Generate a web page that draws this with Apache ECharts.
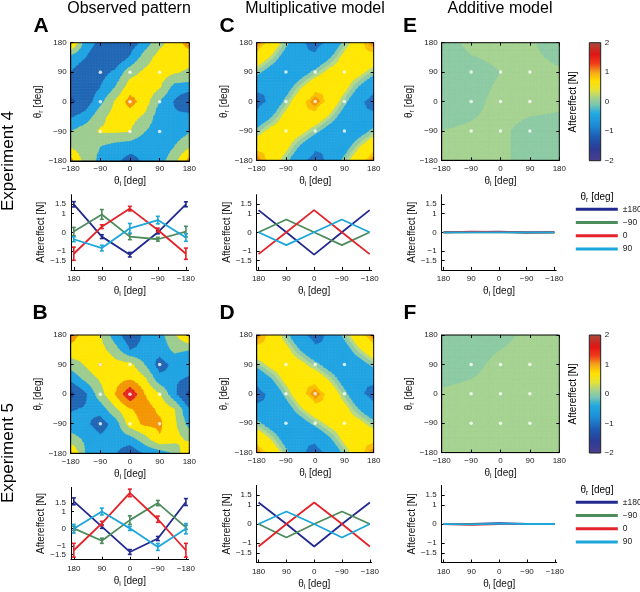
<!DOCTYPE html>
<html><head><meta charset="utf-8">
<script src="https://cdn.jsdelivr.net/npm/echarts@6/dist/echarts.min.js"></script>
<style>html,body{margin:0;padding:0;background:#fff}#c{width:640px;height:592px}</style>
</head><body><div id="c"></div>
<script>
const FONT = '"Liberation Sans", Arial, Helvetica, sans-serif';

// ---------- data ----------
const thetaI = [180, 90, 0, -90, -180];           // x of the line plots
const angles5 = [-180, -90, 0, 90, 180];
const angles9 = [-180, -135, -90, -45, 0, 45, 90, 135, 180];
const dotPts = [[-90,90],[0,90],[90,90],[-90,0],[0,0],[90,0],[-90,-90],[0,-90],[90,-90]];
const seriesNames = ['±180', '−90', '0', '90'];
const lineColors = ['#232a8f', '#4d8c5d', '#e3222a', '#1ca6da'];
const yTicks = [-1.5, -1, 0, 1, 1.5];

// maps: rows = θr from 180 (top) down to -180, cols = θi from -180 to 180 (45° steps)
const mapA = [
  [ 1.2,  -0.3,  -0.6,  -0.8,  -0.8,  -0.3,   0.35,  0.75,  1.2],
  [-0.27, -0.5,  -0.8,  -0.9,  -0.45,  0.25,  0.7,   0.85,  0.7],
  [-0.52, -0.75, -0.7,  -0.4,   0.3,   0.6,   0.75,  0.55,  0.4],
  [-0.8,  -0.85, -0.5,   0.0,   0.75,  0.85,  0.55, -0.2,  -0.25],
  [-1.1,  -0.8,  -0.15,  0.55,  1.2,   0.75, -0.05, -0.55, -1.1],
  [-0.55, -0.3,   0.35,  0.7,   0.7,   0.4,  -0.3,  -0.4,  -0.3],
  [ 0.0,   0.3,   0.55,  0.55,  0.5,   0.0,  -0.3,  -0.3,  -0.05],
  [ 0.4,   0.2,   0.0,  -0.2,  -0.3,  -0.4,  -0.35,  0.0,   0.4],
  [ 1.2,   0.2,  -0.1,  -0.4,  -0.7,  -0.4,  -0.2,   0.3,   1.2]
];
const mapB = [
  [ 1.2,   0.8,   0.5,  -0.3,  -0.85, -0.4,  -0.2,   0.4,   1.1],
  [ 0.85,  0.75,  0.7,   0.2,  -0.5,  -0.4,  -0.3,   0.1,   0.0],
  [ 0.2,   0.55,  1.05,  0.7,   0.65,  0.0,  -0.75, -0.35, -0.35],
  [-0.4,   0.1,   0.55,  0.8,   1.0,   0.6,  -0.3,  -0.45, -0.55],
  [-1.2,  -0.6,   0.3,   1.0,   1.95,  1.0,   0.55, -0.4,  -1.2],
  [-0.55, -0.45, -0.3,   0.4,   0.95,  1.2,   0.9,   0.5,  -0.5],
  [-0.3,  -0.4,  -0.75, -0.3,   0.75,  1.1,   1.1,   0.6,  -0.2],
  [ 0.2,  -0.1,  -0.4,  -0.3,  -0.2,   0.3,   0.95,  0.7,   0.35],
  [ 1.1,  -0.05, -0.3,  -0.45, -0.9,  -0.45, -0.3,   0.05,  1.1]
];
const mapC = [
  [ 1.1,  0.78,  0.0, -0.78, -1.1, -0.78,  0.0,  0.78,  1.1],
  [ 0.78, 0.2,  -0.49,-0.9,  -0.78,-0.2,   0.49, 0.9,   0.78],
  [ 0.0, -0.49, -0.7, -0.49,  0.0,  0.49,  0.7,  0.49,  0.0],
  [-0.78,-0.9,  -0.49, 0.2,   0.78, 0.9,   0.49,-0.2,  -0.78],
  [-1.1, -0.78,  0.0,  0.78,  1.1,  0.78,  0.0, -0.78, -1.1],
  [-0.78,-0.2,   0.49, 0.9,   0.78, 0.2,  -0.49,-0.9,  -0.78],
  [ 0.0,  0.49,  0.7,  0.49,  0.0, -0.49, -0.7, -0.49,  0.0],
  [ 0.78, 0.9,   0.49,-0.2,  -0.78,-0.9,  -0.49, 0.2,   0.78],
  [ 1.1,  0.78,  0.0, -0.78, -1.1, -0.78,  0.0,  0.78,  1.1]
];
const mapD = [
  [ 1.1,  0.78,  0.0, -0.78, -1.1, -0.78,  0.0,  0.78,  1.1],
  [ 0.78, 0.9,   0.49,-0.2,  -0.78,-0.9,  -0.49, 0.2,   0.78],
  [ 0.0,  0.49,  0.7,  0.49,  0.0, -0.49, -0.7, -0.49,  0.0],
  [-0.78,-0.2,   0.49, 0.9,   0.78, 0.2,  -0.49,-0.9,  -0.78],
  [-1.1, -0.78,  0.0,  0.78,  1.1,  0.78,  0.0, -0.78, -1.1],
  [-0.78,-0.9,  -0.49, 0.2,   0.78, 0.9,   0.49,-0.2,  -0.78],
  [ 0.0, -0.49, -0.7, -0.49,  0.0,  0.49,  0.7,  0.49,  0.0],
  [ 0.78, 0.2,  -0.49,-0.9,  -0.78,-0.2,   0.49, 0.9,   0.78],
  [ 1.1,  0.78,  0.0, -0.78, -1.1, -0.78,  0.0,  0.78,  1.1]
];
// 90° steps
const mapE = [
  [-0.02,  0.01,   0.015,  0.005, -0.02],
  [-0.02, -0.015,  0.0,    0.01,   0.005],
  [-0.02, -0.01,   0.01,   0.01,   0.005],
  [ 0.0,   0.005,  0.005, -0.01,  -0.01],
  [ 0.01,  0.01,   0.005, -0.01,  -0.02]
];
const mapF = [
  [-0.02, -0.02, -0.01,  0.01, 0.01],
  [-0.02, -0.01,  0.01,  0.01, 0.01],
  [ 0.005, 0.01,  0.01,  0.01, 0.01],
  [ 0.01,  0.01,  0.01,  0.01, 0.01],
  [ 0.01,  0.01,  0.01,  0.01, 0.01]
];

// contour levels and band colours
const levelsObs = [-1.5, -1, -0.5, 0, 0.5, 1, 1.5];
const colorsObs = ['#2a3a90', '#17479f', '#1f66b5', '#1fa3e3', '#9ecd8f', '#ffe600', '#f39500', '#e2261f'];
const levelsMul = [-0.9, -0.15, 0.1, 0.3, 0.9, 1.0];
const colorsMul = ['#1e70c2', '#1fa3e3', '#8fcaa8', '#b6d886', '#ffe600', '#fbbd00', '#f39500'];
const levelsAdd = [0];
const colorsAdd = ['#8ccaa3', '#a5d290'];

// colorbar
const cbValues = [-2, -1.6, -1.2, -0.8, -0.4, -0.1, 0.1, 0.4, 0.7, 1.0, 1.3, 1.6, 2];
const cbColors = ['#4b3f8c', '#2b3b95', '#1d5bb0', '#1e8bd6', '#21a9e0', '#7cc6b0', '#a0d091', '#e6e23a', '#ffe000', '#f6a31c', '#ef3b1a', '#e01515', '#a84a3c'];

// line plots (x = thetaI)
const obs4_pm180 = [1.49, -0.23, -1.19, 0.0, 1.49];
const obs4_m90   = [0.04, 0.95, -0.23, -0.37, 0.04];
const obs4_0     = [-1.14, 0.3, 1.26, 0.12, -1.14];
const obs4_90    = [-0.37, -0.84, 0.21, 0.65, -0.28];
const err4_pm180 = [0.14, 0.1, 0.12, 0.08, 0.13];
const err4_m90   = [0.22, 0.26, 0.16, 0.1, 0.28];
const err4_0     = [0.35, 0.1, 0.12, 0.1, 0.3];
const err4_90    = [0.13, 0.15, 0.26, 0.2, 0.2];

const obs5_pm180 = [1.59, 0.12, -1.35, -0.57, 1.55];
const obs5_m90   = [0.02, -0.7, 0.5, 1.49, 0.08];
const obs5_0     = [-1.25, 0.31, 2.08, 0.55, -1.25];
const obs5_90    = [0.0, 1.0, 0.02, -1.06, 0.0];
const err5_pm180 = [0.2, 0.1, 0.14, 0.12, 0.2];
const err5_m90   = [0.12, 0.15, 0.25, 0.15, 0.12];
const err5_0     = [0.4, 0.12, 0.22, 0.18, 0.4];
const err5_90    = [0.25, 0.2, 0.12, 0.2, 0.3];

const mul4_pm180 = [1.18, 0.0, -1.19, 0.0, 1.18];
const mul4_m90   = [0.0, 0.68, 0.0, -0.68, 0.0];
const mul4_0     = [-1.16, 0.0, 1.18, 0.0, -1.16];
const mul4_90    = [0.0, -0.68, 0.0, 0.68, 0.0];

const mul5_pm180 = [1.12, 0.0, -1.17, 0.0, 1.12];
const mul5_m90   = [0.0, -0.7, 0.0, 0.65, 0.0];
const mul5_0     = [-1.17, 0.0, 1.12, 0.0, -1.17];
const mul5_90    = [0.0, 0.65, 0.0, -0.7, 0.0];

const add4_pm180 = [0.01, 0.01, 0.03, -0.01, 0.01];
const add4_m90   = [-0.02, 0.0, 0.0, -0.02, -0.02];
const add4_0     = [0.0, 0.03, 0.02, 0.0, 0.0];
const add4_90    = [0.0, 0.0, 0.0, 0.0, 0.0];

const add5_pm180 = [0.0, 0.0, 0.04, 0.0, 0.0];
const add5_m90   = [0.0, 0.0, 0.0, 0.0, 0.0];
const add5_0     = [0.0, -0.04, 0.0, 0.0, 0.0];
const add5_90    = [0.0, -0.02, 0.02, 0.0, 0.0];

// ---------- helpers ----------
const minus = v => String(v).replace('-', '−');
const rich = {
  a: {fontSize: 10, fontFamily: FONT, color: '#111', lineHeight: 13},
  b: {fontSize: 7, fontFamily: FONT, color: '#111', verticalAlign: 'bottom'}
};
const nameI = '{a|θ}{b|i}{a| [deg]}';
const nameR = '{a|θ}{b|r}{a| [deg]}';

function clip(poly, lv, above) {
  const out = [];
  const n = poly.length;
  for (let i = 0; i < n; i++) {
    const a = poly[i], b = poly[(i + 1) % n];
    const ina = above ? a[2] >= lv : a[2] <= lv;
    const inb = above ? b[2] >= lv : b[2] <= lv;
    if (ina) out.push(a);
    if (ina !== inb) {
      const t = (lv - a[2]) / (b[2] - a[2]);
      out.push([a[0] + t * (b[0] - a[0]), a[1] + t * (b[1] - a[1]), lv]);
    }
  }
  return out;
}

const grids = [], xAxes = [], yAxes = [], series = [];
const tickStyle = {show: true, inside: true, length: 3, lineStyle: {color: '#000'}};

function addMap(values, angles, levels, colors, left, top, w, h, sub) {
  const gi = grids.length;
  grids.push({left, top, width: w, height: h, show: true, borderColor: '#000', borderWidth: 1, z: 10, backgroundColor: 'transparent'});
  const xi = xAxes.length, yi = yAxes.length;
  xAxes.push({gridIndex: gi, type: 'value', min: -180, max: 180, interval: 90, z: 10,
    axisLine: {show: true, onZero: false, lineStyle: {color: '#000', width: 1}},
    axisTick: tickStyle,
    axisLabel: {fontSize: 8, color: '#222', margin: 4, formatter: minus, fontFamily: FONT},
    splitLine: {show: false},
    name: nameI, nameLocation: 'middle', nameGap: 14, nameTextStyle: {rich}});
  xAxes.push({gridIndex: gi, type: 'value', position: 'top', min: -180, max: 180, interval: 90, z: 10,
    axisLine: {show: false, onZero: false}, axisTick: tickStyle, axisLabel: {show: false}, splitLine: {show: false}});
  yAxes.push({gridIndex: gi, type: 'value', min: -180, max: 180, interval: 90, z: 10,
    axisLine: {show: true, onZero: false, lineStyle: {color: '#000', width: 1}},
    axisTick: tickStyle,
    axisLabel: {fontSize: 8, color: '#222', margin: 4, formatter: minus, fontFamily: FONT},
    splitLine: {show: false},
    name: nameR, nameLocation: 'middle', nameGap: 26, nameTextStyle: {rich}});
  yAxes.push({gridIndex: gi, type: 'value', position: 'right', min: -180, max: 180, interval: 90, z: 10,
    axisLine: {show: false, onZero: false}, axisTick: tickStyle, axisLabel: {show: false}, splitLine: {show: false}});
  const n = angles.length;
  const val = (ci, rj) => values[n - 1 - rj][ci];
  const cells = [];
  for (let rj = 0; rj < n - 1; rj++) for (let ci = 0; ci < n - 1; ci++) cells.push([angles[ci], angles[rj], ci, rj]);
  series.push({
    type: 'custom', xAxisIndex: xi, yAxisIndex: yi, data: cells, clip: true, silent: true, z: 1,
    renderItem(params, api) {
      const ci = api.value(2), rj = api.value(3);
      const x0 = angles[ci], x1 = angles[ci + 1], y0 = angles[rj], y1 = angles[rj + 1];
      const v00 = val(ci, rj), v10 = val(ci + 1, rj), v11 = val(ci + 1, rj + 1), v01 = val(ci, rj + 1);
      // bilinear surface drawn on a sub-mesh of the cell
      const node = (a, b) => {
        const u = a / sub, t = b / sub;
        return [x0 + u * (x1 - x0), y0 + t * (y1 - y0),
          v00 * (1 - u) * (1 - t) + v10 * u * (1 - t) + v11 * u * t + v01 * (1 - u) * t];
      };
      const children = [];
      for (let a = 0; a < sub; a++) for (let b = 0; b < sub; b++) {
        const q00 = node(a, b), q10 = node(a + 1, b), q11 = node(a + 1, b + 1), q01 = node(a, b + 1);
        for (const t of [[q00, q10, q11], [q00, q11, q01]]) {
          for (let k = 0; k <= levels.length; k++) {
            let poly = t;
            if (k > 0) poly = clip(poly, levels[k - 1], true);
            if (poly.length >= 3 && k < levels.length) poly = clip(poly, levels[k], false);
            if (poly.length >= 3) children.push({type: 'polygon',
              shape: {points: poly.map(p => api.coord([p[0], p[1]]))},
              style: {fill: colors[k], stroke: colors[k], lineWidth: 0.7}});
          }
        }
      }
      return {type: 'group', children};
    }
  });
  series.push({type: 'scatter', xAxisIndex: xi, yAxisIndex: yi, data: dotPts, symbolSize: 3.5,
    itemStyle: {color: '#fff'}, silent: true, z: 5});
}

function addLines(lines, errs, left, top, w, h, ymin, ymax, xr) {
  const gi = grids.length;
  grids.push({left, top, width: w, height: h});
  const xi = xAxes.length, yi = yAxes.length;
  xAxes.push({gridIndex: gi, type: 'value', inverse: true, min: -xr, max: xr,
    axisLine: {show: true, onZero: false, lineStyle: {color: '#000', width: 1}},
    axisTick: {show: true, inside: true, length: 3, customValues: thetaI, lineStyle: {color: '#000'}},
    axisLabel: {fontSize: 8, color: '#222', margin: 5, customValues: thetaI, formatter: minus, fontFamily: FONT},
    splitLine: {show: false},
    name: nameI, nameLocation: 'middle', nameGap: 15, nameTextStyle: {rich}});
  yAxes.push({gridIndex: gi, type: 'value', min: ymin, max: ymax,
    axisLine: {show: true, onZero: false, lineStyle: {color: '#000', width: 1}},
    axisTick: {show: true, inside: true, length: 3, customValues: yTicks, lineStyle: {color: '#000'}},
    axisLabel: {fontSize: 8, color: '#222', margin: 5, customValues: yTicks, formatter: minus, fontFamily: FONT},
    splitLine: {show: false},
    name: 'Aftereffect [N]', nameLocation: 'middle', nameGap: 24,
    nameTextStyle: {fontSize: 10, color: '#111', fontFamily: FONT}});
  lines.forEach((vals, k) => {
    series.push({type: 'line', name: seriesNames[k], xAxisIndex: xi, yAxisIndex: yi,
      data: thetaI.map((x, i) => [x, vals[i]]), showSymbol: false, symbol: 'none',
      color: lineColors[k], lineStyle: {color: lineColors[k], width: 1.8}, z: 2 + k * 0.1, silent: true});
    if (errs) {
      const e = errs[k], col = lineColors[k];
      series.push({type: 'custom', xAxisIndex: xi, yAxisIndex: yi, silent: true, z: 2 + k * 0.1,
        data: thetaI.map((x, i) => [x, vals[i], e[i]]),
        renderItem(params, api) {
          const x = api.value(0), v = api.value(1), er = api.value(2);
          const a = api.coord([x, v - er]), b = api.coord([x, v + er]);
          const w2 = 2;
          const st = {stroke: col, lineWidth: 1.6};
          return {type: 'group', children: [
            {type: 'line', shape: {x1: a[0], y1: a[1], x2: b[0], y2: b[1]}, style: st},
            {type: 'line', shape: {x1: a[0] - w2, y1: a[1], x2: a[0] + w2, y2: a[1]}, style: st},
            {type: 'line', shape: {x1: b[0] - w2, y1: b[1], x2: b[0] + w2, y2: b[1]}, style: st}
          ]};
        }});
    }
  });
}

function addColorbar(left, top, w, h) {
  const gi = grids.length;
  grids.push({left, top, width: w, height: h, show: true, borderColor: '#222', borderWidth: 1, z: 10, backgroundColor: 'transparent'});
  const xi = xAxes.length, yi = yAxes.length;
  xAxes.push({gridIndex: gi, type: 'value', min: 0, max: 1, show: false});
  yAxes.push({gridIndex: gi, type: 'value', min: -2, max: 2, interval: 1, position: 'right',
    axisLine: {show: false, onZero: false}, axisTick: {show: false}, splitLine: {show: false},
    axisLabel: {fontSize: 8, color: '#222', margin: 4, formatter: minus, fontFamily: FONT}});
  const lo = cbValues[0], hi = cbValues[cbValues.length - 1];
  series.push({type: 'custom', xAxisIndex: xi, yAxisIndex: yi, silent: true, data: [[0, lo, 1, hi]],
    renderItem(params, api) {
      const p1 = api.coord([api.value(0), api.value(3)]);
      const p2 = api.coord([api.value(2), api.value(1)]);
      const stops = cbValues.map((v, i) => ({offset: (hi - v) / (hi - lo), color: cbColors[i]}));
      return {type: 'rect', shape: {x: p1[0], y: p1[1], width: p2[0] - p1[0], height: p2[1] - p1[1]},
        style: {fill: new echarts.graphic.LinearGradient(0, 0, 0, 1, stops)}};
    }});
}

// ---------- layout ----------
addMap(mapA, angles9, levelsObs, colorsObs, 70.7, 42.7, 118.6, 118.3, 5);
addMap(mapC, angles9, levelsMul, colorsMul, 256.7, 42.7, 117, 117.6, 5);
addMap(mapE, angles5, levelsAdd, colorsAdd, 441.7, 42.7, 117.6, 117.6, 8);
addMap(mapB, angles9, levelsObs, colorsObs, 70.7, 335, 118.6, 118.3, 5);
addMap(mapD, angles9, levelsMul, colorsMul, 256.7, 335, 117, 117.6, 5);
addMap(mapF, angles5, levelsAdd, colorsAdd, 441.7, 335, 117.6, 117.6, 8);

addLines([obs4_pm180, obs4_m90, obs4_0, obs4_90], [err4_pm180, err4_m90, err4_0, err4_90], 71, 194.7, 117.7, 75.2, -2, 2, 189);
addLines([mul4_pm180, mul4_m90, mul4_0, mul4_90], null, 256.7, 194.7, 114.8, 75.2, -2, 2, 186);
addLines([add4_pm180, add4_m90, add4_0, add4_90], null, 441.7, 194.7, 114.5, 75.2, -2, 2, 186);
addLines([obs5_pm180, obs5_m90, obs5_0, obs5_90], [err5_pm180, err5_m90, err5_0, err5_90], 71, 487.4, 117.7, 72.3, -1.8, 2.4, 189);
addLines([mul5_pm180, mul5_m90, mul5_0, mul5_90], null, 256.7, 485.5, 115, 77, -2, 2, 186);
addLines([add5_pm180, add5_m90, add5_0, add5_90], null, 441.7, 485.5, 115, 77, -2, 2, 186);

addColorbar(589.3, 42.7, 11.4, 118);
addColorbar(589.3, 335, 11.4, 118);

const txt = (x, y, text, size, extra) => Object.assign({type: 'text', x, y, silent: true,
  style: Object.assign({text, fill: '#000', fontSize: size, fontFamily: FONT, align: 'center', verticalAlign: 'middle'}, extra || {})});

const graphic = [
  txt(129, 9, 'Observed pattern', 16),
  txt(315, 9, 'Multiplicative model', 16),
  txt(500, 9, 'Additive model', 16),
  txt(41, 26, 'A', 21, {fontWeight: 'bold'}),
  txt(227, 26, 'C', 21, {fontWeight: 'bold'}),
  txt(410, 26, 'E', 21, {fontWeight: 'bold'}),
  txt(40, 313, 'B', 21, {fontWeight: 'bold'}),
  txt(227, 313, 'D', 21, {fontWeight: 'bold'}),
  txt(410, 313, 'F', 21, {fontWeight: 'bold'}),
  Object.assign(txt(8, 161, 'Experiment 4', 17), {rotation: Math.PI / 2}),
  Object.assign(txt(8, 453, 'Experiment 5', 17), {rotation: Math.PI / 2}),
  Object.assign(txt(573, 102, 'Aftereffect [N]', 10), {rotation: Math.PI / 2}),
  Object.assign(txt(573, 394, 'Aftereffect [N]', 10), {rotation: Math.PI / 2}),
  txt(597, 197, nameR, 10, {rich}),
  txt(597, 490, nameR, 10, {rich})
];

const legendBase = {orient: 'vertical', left: 575.8, icon: 'rect', itemWidth: 42, itemHeight: 3, itemGap: 3.2,
  padding: 0, width: 70, data: seriesNames, selectedMode: false,
  textStyle: {fontSize: 8.5, color: '#222', fontFamily: FONT, lineHeight: 10, overflow: 'none', width: 30}};

const chart = echarts.init(document.getElementById('c'), null, {renderer: 'canvas'});
chart.setOption({
  animation: false,
  textStyle: {fontFamily: FONT},
  grid: grids, xAxis: xAxes, yAxis: yAxes, series,
  legend: [Object.assign({}, legendBase, {top: 204.3}), Object.assign({}, legendBase, {top: 497.3})],
  graphic
});
</script></body></html>
